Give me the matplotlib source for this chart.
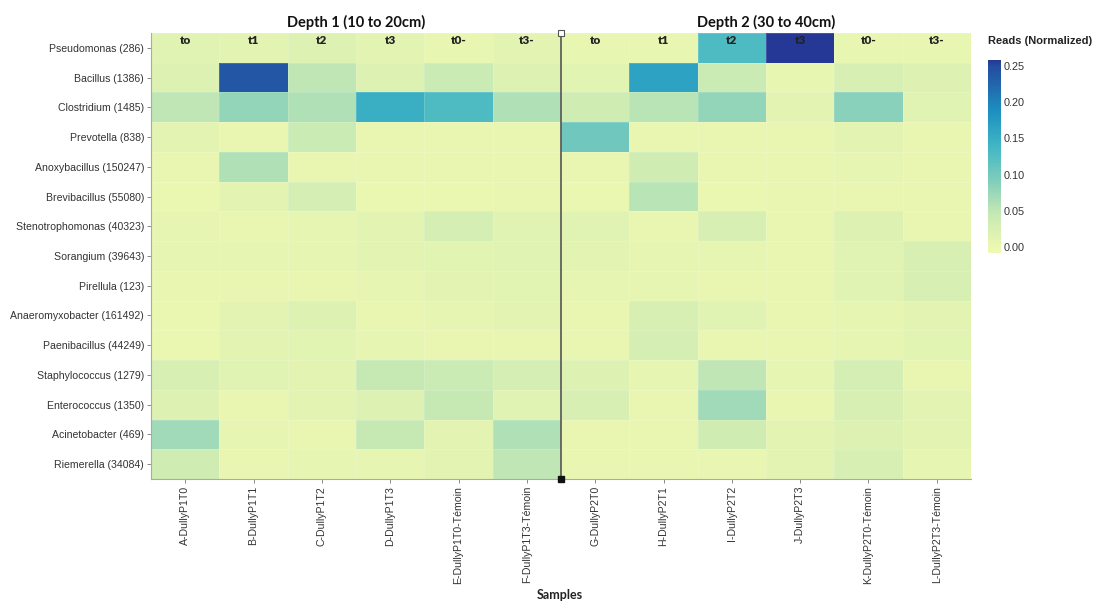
import numpy as np
import matplotlib
matplotlib.use("Agg")
import matplotlib.pyplot as plt
from matplotlib.colors import LinearSegmentedColormap, Normalize
from matplotlib.transforms import blended_transform_factory

# Genera (with taxon id) shown as rows
genera = [
    "Pseudomonas (286)", "Bacillus (1386)", "Clostridium (1485)", "Prevotella (838)",
    "Anoxybacillus (150247)", "Brevibacillus (55080)", "Stenotrophomonas (40323)",
    "Sorangium (39643)", "Pirellula (123)", "Anaeromyxobacter (161492)",
    "Paenibacillus (44249)", "Staphylococcus (1279)", "Enterococcus (1350)",
    "Acinetobacter (469)", "Riemerella (34084)",
]

samples = [
    "A-DullyP1T0", "B-DullyP1T1", "C-DullyP1T2", "D-DullyP1T3",
    "E-DullyP1T0-Témoin", "F-DullyP1T3-Témoin",
    "G-DullyP2T0", "H-DullyP2T1", "I-DullyP2T2", "J-DullyP2T3",
    "K-DullyP2T0-Témoin", "L-DullyP2T3-Témoin",
]

time_labels = ["to", "t1", "t2", "t3", "t0-", "t3-"]
depth_titles = ["Depth 1 (10 to 20cm)", "Depth 2 (30 to 40cm)"]

# Normalized reads, one list per genus (columns follow `samples`)
pseudomonas      = [0.015, 0.010, 0.020, 0.010, 0.006, 0.010, 0.006, 0.006, 0.130, 0.262, 0.006, 0.006]
bacillus         = [0.020, 0.240, 0.050, 0.020, 0.040, 0.020, 0.012, 0.165, 0.040, 0.006, 0.025, 0.020]
clostridium      = [0.050, 0.080, 0.060, 0.148, 0.130, 0.060, 0.035, 0.055, 0.080, 0.010, 0.085, 0.015]
prevotella       = [0.010, 0.005, 0.040, 0.005, 0.005, 0.005, 0.105, 0.005, 0.005, 0.005, 0.010, 0.005]
anoxybacillus    = [0.005, 0.060, 0.005, 0.005, 0.005, 0.005, 0.005, 0.035, 0.005, 0.005, 0.008, 0.005]
brevibacillus    = [0.003, 0.010, 0.030, 0.003, 0.003, 0.005, 0.003, 0.055, 0.003, 0.005, 0.005, 0.005]
stenotrophomonas = [0.008, 0.005, 0.008, 0.010, 0.030, 0.015, 0.015, 0.005, 0.025, 0.005, 0.020, 0.005]
sorangium        = [0.008, 0.008, 0.008, 0.010, 0.012, 0.015, 0.010, 0.008, 0.008, 0.005, 0.015, 0.025]
pirellula        = [0.005, 0.005, 0.005, 0.008, 0.010, 0.012, 0.008, 0.008, 0.005, 0.005, 0.015, 0.025]
anaeromyxobacter = [0.003, 0.010, 0.020, 0.005, 0.008, 0.010, 0.005, 0.025, 0.015, 0.005, 0.008, 0.010]
paenibacillus    = [0.003, 0.010, 0.012, 0.008, 0.005, 0.005, 0.005, 0.030, 0.005, 0.005, 0.008, 0.012]
staphylococcus   = [0.025, 0.015, 0.010, 0.045, 0.040, 0.030, 0.020, 0.008, 0.050, 0.008, 0.030, 0.005]
enterococcus     = [0.020, 0.005, 0.010, 0.020, 0.045, 0.015, 0.025, 0.005, 0.070, 0.005, 0.025, 0.010]
acinetobacter    = [0.070, 0.008, 0.005, 0.045, 0.010, 0.060, 0.005, 0.005, 0.035, 0.010, 0.020, 0.010]
riemerella       = [0.035, 0.005, 0.008, 0.008, 0.010, 0.050, 0.005, 0.005, 0.005, 0.010, 0.025, 0.008]

reads = np.array([
    pseudomonas, bacillus, clostridium, prevotella, anoxybacillus, brevibacillus,
    stenotrophomonas, sorangium, pirellula, anaeromyxobacter, paenibacillus,
    staphylococcus, enterococcus, acinetobacter, riemerella,
])

# Yellow-green-blue ramp without the palest end, darkening faster at the top
base = plt.get_cmap("YlGnBu")
pos = np.linspace(0, 1, 256)
ramp = np.interp(pos, [0.0, 0.78, 0.97, 1.0], [0.11, 0.66, 0.80, 0.86])
cmap = LinearSegmentedColormap.from_list("ylgnbu_mid", base(ramp))
norm = Normalize(vmin=-0.008, vmax=0.258)

plt.rcParams["font.family"] = ["Liberation Sans", "DejaVu Sans"]

fig = plt.figure(figsize=(10.97, 6.02), dpi=100)
ax = fig.add_axes([151 / 1097, 1 - 479 / 602, 820 / 1097, 446 / 602])

n_rows, n_cols = reads.shape
mesh = ax.pcolormesh(np.arange(n_cols + 1) - 0.5, np.arange(n_rows + 1) - 0.5, reads,
                     cmap=cmap, norm=norm, edgecolors=(1, 1, 1, 0.15), linewidth=0.4)
ax.set_xlim(-0.5, n_cols - 0.5)
ax.set_ylim(n_rows - 0.5, -0.5)

ax.set_yticks(np.arange(n_rows))
ax.set_yticklabels(genera, fontsize=7.6, color="#333333")
ax.set_xticks(np.arange(n_cols))
ax.set_xticklabels(samples, rotation=90, fontsize=7.6, color="#333333")
ax.tick_params(axis="both", length=3, width=0.6, color="#777777", pad=2)

for side in ("top", "right"):
    ax.spines[side].set_visible(False)
for side in ("left", "bottom"):
    ax.spines[side].set_color("#aaaaaa")
    ax.spines[side].set_linewidth(0.8)

# Time-point headers inside the first row
for j in range(n_cols):
    ax.text(j, -0.24, time_labels[j % 6], ha="center", va="center",
            fontsize=8.5, fontweight="heavy", color="#222222",
            family=["Lato", "DejaVu Sans"])

# Divider between the two depths
half = n_cols / 2 - 0.5
ax.plot([half, half], [-0.5, n_rows - 0.5], color="#555555", lw=1.2,
        clip_on=False, zorder=5)
ax.plot([half], [-0.5], marker="s", ms=4, mfc="white", mec="#555555",
        mew=0.8, clip_on=False, zorder=6)
ax.plot([half], [n_rows - 0.5], marker="s", ms=4, color="#111111",
        clip_on=False, zorder=6)

# Depth titles
trans = blended_transform_factory(ax.transData, fig.transFigure)
for k, title in enumerate(depth_titles):
    ax.text(2.5 + 6 * k, 1 - 22 / 602, title, transform=trans, ha="center",
            va="center", fontsize=10.5, fontweight="bold", color="#111111",
            family=["Lato", "DejaVu Sans"])

fig.text(560 / 1097, 1 - 595 / 602, "Samples", ha="center", va="center",
         fontsize=9, fontweight="bold", color="#222222",
         family=["Lato", "DejaVu Sans"])

# Colour scale
cax = fig.add_axes([988 / 1097, 1 - 253 / 602, 13 / 1097, 193 / 602])
cb = fig.colorbar(mesh, cax=cax)
cb.outline.set_visible(False)
cb.set_ticks([0.0, 0.05, 0.10, 0.15, 0.20, 0.25])
cb.set_ticklabels(["0.00", "0.05", "0.10", "0.15", "0.20", "0.25"])
cax.tick_params(length=0, labelsize=7.8, labelcolor="#333333", pad=2)
fig.text(988 / 1097, 1 - 41 / 602, "Reads (Normalized)", ha="left", va="center",
         fontsize=8, fontweight="bold", color="#222222")

fig.savefig("out.png", dpi=100)
